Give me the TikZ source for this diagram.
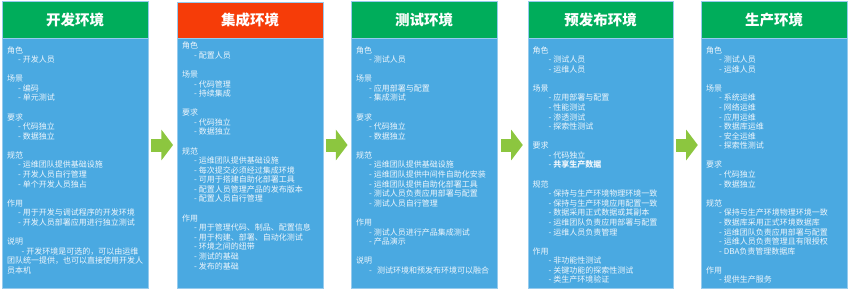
\documentclass[tikz,border=0pt]{standalone}
\usepackage{fontspec}
\setmainfont{Noto Sans CJK SC}
\usetikzlibrary{arrows.meta}
\definecolor{hdrgreen}{RGB}{0,173,91}
\definecolor{hdrorange}{RGB}{246,60,8}
\definecolor{bodyblue}{RGB}{74,169,225}
\definecolor{edgec}{RGB}{150,203,238}
\definecolor{txtc}{RGB}{238,246,252}
\definecolor{arrowc}{RGB}{140,198,63}
\newlength\myind
\newcommand\mysec[1]{\hbox{#1}}
\newcommand\myitem[1]{\hbox{\hspace*{\myind}- #1}}
\newcommand\myblank{\hbox{}}
\newcommand\mycol[2]{\setlength\myind{#1}\vtop{\fontsize{8}{9.58}\selectfont\lineskiplimit=-20pt\lineskip=0pt #2}}
\tikzset{
  hdrbox/.style={draw=edgec, line width=0.6pt, anchor=north west, inner sep=0pt,
    minimum width=145.5pt, minimum height=37pt, text=white,
    font=\fontsize{14.5}{16}\selectfont\bfseries},
  bodybox/.style={draw=edgec, line width=0.6pt, fill=bodyblue, anchor=north west,
    inner sep=0pt, minimum width=145.5pt, minimum height=250pt},
  coltext/.style={anchor=base west, inner sep=0pt, text=txtc},
  flowarrow/.style={arrowc, line width=13pt, -{Triangle[width=30pt,length=11.6pt]}}
}
\begin{document}
\begin{tikzpicture}[x=1pt,y=-1pt]
\useasboundingbox (0,0) rectangle (850,292);
% bodies
\node[bodybox] (b1) at (2,38) {};
\node[bodybox] (b2) at (177,38) {};
\node[bodybox] (b3) at (351,38) {};
\node[bodybox] (b4) at (527.5,38) {};
\node[bodybox] (b5) at (701,38) {};
% headers
\node[hdrbox, fill=hdrgreen] (h1) at (2,1) {开发环境};
\node[hdrbox, fill=hdrorange, minimum height=36pt] (h2) at (177,2) {集成环境};
\node[hdrbox, fill=hdrgreen] (h3) at (351,1) {测试环境};
\node[hdrbox, fill=hdrgreen] (h4) at (527.5,1) {预发布环境};
\node[hdrbox, fill=hdrgreen] (h5) at (701,1) {生产环境};
% arrows
\coordinate (a1s) at (151.45,145); \coordinate (a1e) at (173.05,145);
\coordinate (a2s) at (325.95,145); \coordinate (a2e) at (347.55,145);
\coordinate (a3s) at (501.2,145);  \coordinate (a3e) at (522.8,145);
\coordinate (a4s) at (676.2,145);  \coordinate (a4e) at (697.8,145);
\draw[flowarrow] (a1s) -- (a1e);
\draw[flowarrow] (a2s) -- (a2e);
\draw[flowarrow] (a3s) -- (a3e);
\draw[flowarrow] (a4s) -- (a4e);
% texts
\node[coltext] (t1) at (7,53) {\mycol{11pt}{%
\mysec{角色}\myitem{开发人员}\myblank
\mysec{场景}\myitem{编码}\myitem{单元测试}\myblank
\mysec{要求}\myitem{代码独立}\myitem{数据独立}\myblank
\mysec{规范}\myitem{运维团队提供基础设施}\myitem{开发人员自行管理}\myitem{单个开发人员独占}\myblank
\mysec{作用}\myitem{用于开发与调试程序的开发环境}\myitem{开发人员部署应用进行独立测试}\myblank
\mysec{说明}\hbox{\hspace*{14.5pt}- 开发环境是可选的，可以由运维}%
\hbox{团队统一提供，也可以直接使用开发人}\hbox{员本机}}};
\node[coltext] (t2) at (182,48.7) {\mycol{12pt}{%
\mysec{角色}\myitem{配置人员}\myblank
\mysec{场景}\myitem{代码管理}\myitem{持续集成}\myblank
\mysec{要求}\myitem{代码独立}\myitem{数据独立}\myblank
\mysec{规范}\myitem{运维团队提供基础设施}\myitem{每次提交必须经过集成环境}\myitem{可用于搭建自助化部署工具}\myitem{配置人员管理产品的发布版本}\myitem{配置人员自行管理}\myblank
\mysec{作用}\myitem{用于管理代码、制品、配置信息}\myitem{用于构建、部署、自动化测试}\myitem{环境之间的纽带}\myitem{测试的基础}\myitem{发布的基础}}};
\node[coltext] (t3) at (356,53) {\mycol{13pt}{%
\mysec{角色}\myitem{测试人员}\myblank
\mysec{场景}\myitem{应用部署与配置}\myitem{集成测试}\myblank
\mysec{要求}\myitem{代码独立}\myitem{数据独立}\myblank
\mysec{规范}\myitem{运维团队提供基础设施}\myitem{运维团队提供中间件自助化安装}\myitem{运维团队提供自助化部署工具}\myitem{测试人员负责应用部署与配置}\myitem{测试人员自行管理}\myblank
\mysec{作用}\myitem{测试人员进行产品集成测试}\myitem{产品演示}\myblank
\mysec{说明}\myitem{\hspace{3.3pt}测试环境和预发布环境可以融合}}};
\node[coltext] (t4) at (532.5,53) {\mycol{16pt}{%
\mysec{角色}\myitem{测试人员}\myitem{运维人员}\myblank
\mysec{场景}\myitem{应用部署与配置}\myitem{性能测试}\myitem{渗透测试}\myitem{探索性测试}\myblank
\mysec{要求}\myitem{代码独立}\myitem{\textbf{共享生产数据}}\myblank
\mysec{规范}\myitem{保持与生产环境物理环境一致}\myitem{保持与生产环境应用配置一致}\myitem{数据采用正式数据或其副本}\myitem{运维团队负责应用部署与配置}\myitem{运维人员负责管理}\myblank
\mysec{作用}\myitem{非功能性测试}\myitem{关键功能的探索性测试}\myitem{类生产环境验证}}};
\node[coltext] (t5) at (706,53) {\mycol{13pt}{%
\mysec{角色}\myitem{测试人员}\myitem{运维人员}\myblank
\mysec{场景}\myitem{系统运维}\myitem{网络运维}\myitem{应用运维}\myitem{数据库运维}\myitem{安全运维}\myitem{探索性测试}\myblank
\mysec{要求}\myitem{代码独立}\myitem{数据独立}\myblank
\mysec{规范}\myitem{保持与生产环境物理环境一致}\myitem{数据库采用正式环境数据库}\myitem{运维团队负责应用部署与配置}\myitem{运维人员负责管理且有限授权}\myitem{DBA负责管理数据库}\myblank
\mysec{作用}\myitem{提供生产服务}}};
\end{tikzpicture}
\end{document}
